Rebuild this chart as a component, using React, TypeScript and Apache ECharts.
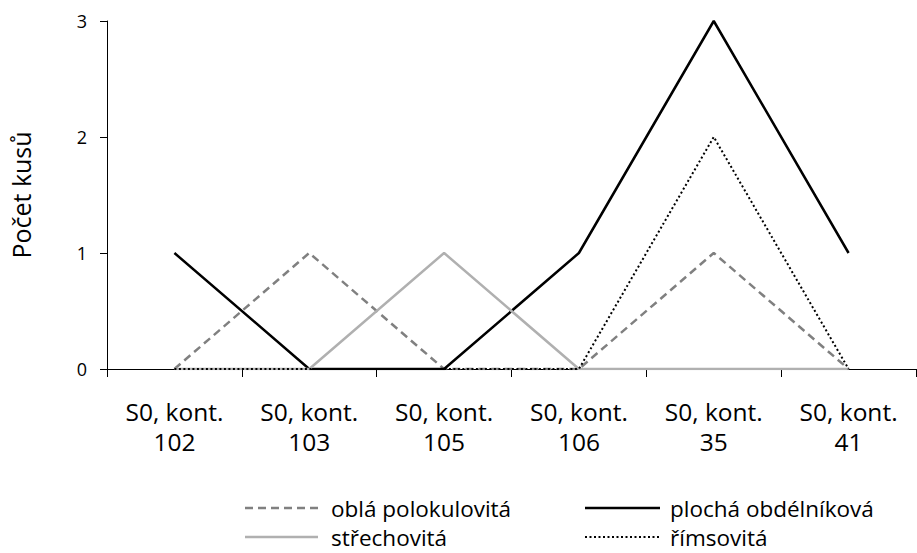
import React, { useEffect, useRef } from "react";
import * as echarts from "echarts";

const categories = [
  "S0, kont.\n102",
  "S0, kont.\n103",
  "S0, kont.\n105",
  "S0, kont.\n106",
  "S0, kont.\n35",
  "S0, kont.\n41",
];
const seriesNames = ["oblá polokulovitá", "plochá obdélníková", "střechovitá", "římsovitá"];
const oblaPolokulovita = [0, 1, 0, 0, 1, 0];
const plochaObdelnikova = [1, 0, 0, 1, 3, 1];
const strechovita = [0, 0, 1, 0, 0, 0];
const rimsovita = [0, 0, 0, 0, 2, 0];
const yTicks = [0, 1, 2, 3];

const FONT = "'Open Sans', 'Noto Sans', sans-serif";

const styles: Record<string, { color: string; width: number; type: any }> = {
  "oblá polokulovitá": { color: "#808080", width: 2.5, type: [8, 5] },
  "plochá obdélníková": { color: "#000000", width: 2.5, type: "solid" },
  "střechovitá": { color: "#b0b0b0", width: 2.5, type: "solid" },
  "římsovitá": { color: "#000000", width: 2, type: [2, 2.5] },
};

// legend layout: [name, lineX1, lineX2, textX, y]
const legendLayout: [string, number, number, number, number][] = [
  ["oblá polokulovitá", 245, 318, 331, 508],
  ["střechovitá", 245, 318, 331, 537],
  ["plochá obdélníková", 585, 660, 670, 508],
  ["římsovitá", 585, 660, 670, 537],
];

export default function App() {
  const ref = useRef<HTMLDivElement>(null);
  useEffect(() => {
    if (!ref.current) return;
    document.body.style.margin = "0";
    document.body.style.overflow = "hidden";
    const chart = echarts.init(ref.current, undefined, { renderer: "svg" });
    const dataMap: Record<string, number[]> = {
      "oblá polokulovitá": oblaPolokulovita,
      "plochá obdélníková": plochaObdelnikova,
      "střechovitá": strechovita,
      "římsovitá": rimsovita,
    };
    const graphic: any[] = [];
    legendLayout.forEach(([name, x1, x2, tx, y]) => {
      const s = styles[name];
      graphic.push({
        type: "line",
        shape: { x1, y1: y, x2, y2: y },
        style: {
          stroke: s.color,
          lineWidth: s.width,
          lineDash: Array.isArray(s.type) ? s.type : null,
        },
      });
      graphic.push({
        type: "text",
        x: tx,
        y,
        style: {
          text: name,
          fontFamily: FONT,
          fontSize: 22.5,
          fill: "#000",
          verticalAlign: "middle",
          align: "left",
        },
      });
    });
    chart.setOption({
      animation: false,
      backgroundColor: "#ffffff",
      textStyle: { fontFamily: FONT, color: "#000" },
      grid: { left: 107, right: 1, top: 21, bottom: 184, containLabel: false },
      graphic,
      xAxis: {
        type: "category",
        data: categories,
        boundaryGap: true,
        axisLine: { lineStyle: { color: "#000", width: 1 } },
        axisTick: { show: true, length: 8, lineStyle: { color: "#000" } },
        axisLabel: {
          fontFamily: FONT,
          fontSize: 24.5,
          color: "#000",
          lineHeight: 30,
          margin: 27,
          interval: 0,
        },
      },
      yAxis: {
        type: "value",
        min: yTicks[0],
        max: yTicks[yTicks.length - 1],
        interval: 1,
        name: "Počet kusů",
        nameLocation: "middle",
        nameRotate: 90,
        nameGap: 74,
        nameTextStyle: { fontFamily: FONT, fontSize: 25, color: "#000" },
        axisLine: { show: true, lineStyle: { color: "#000", width: 1 } },
        axisTick: { show: true, length: 7, lineStyle: { color: "#000" } },
        splitLine: { show: false },
        axisLabel: { fontFamily: FONT, fontSize: 18, color: "#000", margin: 20 },
      },
      series: seriesNames.map((name) => ({
        name,
        type: "line",
        data: dataMap[name],
        symbol: "none",
        itemStyle: { color: styles[name].color },
        lineStyle: { ...styles[name] },
      })),
    });
    return () => chart.dispose();
  }, []);
  return (
    <div
      ref={ref}
      style={{ position: "absolute", left: 0, top: 0, width: 917, height: 553 }}
    />
  );
}
